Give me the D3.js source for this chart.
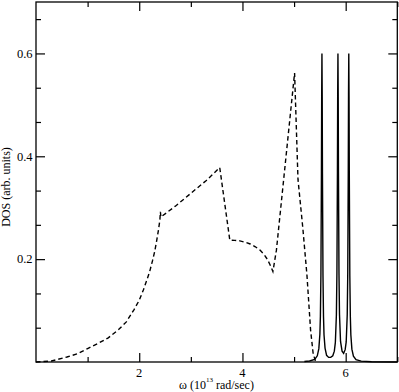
<!DOCTYPE html>
<html><head><meta charset="utf-8">
<script src="https://cdn.jsdelivr.net/npm/d3@7"></script>
<style>body{margin:0;background:#fff}svg{display:block}</style>
</head><body>
<script>
// dashed series (omega, DOS)
const dashedX = [0,0.3,0.6,0.8,1.0,1.2,1.4,1.6,1.75,1.9,2.0,2.08,2.15,2.2,2.26,2.3,2.34,2.37,2.40,2.41,2.42,2.7,3.0,3.3,3.56,3.755,3.85,3.95,4.05,4.15,4.25,4.34,4.42,4.48,4.53,4.57,4.59,4.658,5.01,5.076,5.17,5.25,5.32,5.37,5.42];
const dashedY = [0,0.002,0.0097,0.016,0.026,0.036,0.047,0.063,0.078,0.102,0.12,0.14,0.16,0.175,0.198,0.215,0.237,0.255,0.276,0.292,0.282,0.303,0.328,0.353,0.378,0.237,0.2365,0.2355,0.233,0.2295,0.224,0.2175,0.209,0.200,0.190,0.181,0.176,0.2175,0.562,0.355,0.26,0.168,0.062,0.016,0.0];
// solid series (omega, DOS)
const solidX = [5.20,5.30,5.40,5.45,5.48,5.50,5.51,5.52,5.53,5.535,5.54,5.545,5.55,5.56,5.57,5.58,5.60,5.63,5.67,5.71,5.75,5.78,5.80,5.82,5.83,5.84,5.845,5.85,5.855,5.86,5.87,5.88,5.90,5.93,5.96,5.99,6.01,6.03,6.04,6.05,6.055,6.06,6.065,6.07,6.08,6.09,6.10,6.12,6.15,6.20,6.30,6.50,7.0];
const solidY = [0.001,0.002,0.005,0.012,0.026,0.054,0.089,0.169,0.366,0.517,0.6,0.517,0.366,0.169,0.089,0.053,0.027,0.013,0.009,0.009,0.012,0.021,0.038,0.092,0.172,0.369,0.52,0.6,0.52,0.37,0.173,0.093,0.040,0.021,0.017,0.024,0.039,0.092,0.172,0.368,0.52,0.6,0.517,0.366,0.169,0.089,0.053,0.025,0.0114,0.0047,0.0016,0.0005,0];
const xMajor = [2,4,6];
const xMinor = [1,3,5,7];
const yMajor = [0.2,0.4,0.6];
const yMinor = [0.0667,0.1333,0.2667,0.3333,0.4667,0.5333,0.6667];

const FONT = "'Liberation Serif','Times New Roman',Times,serif";
const W=399,H=392;
const svg=d3.select("body").append("svg").attr("width",W).attr("height",H);
const x=d3.scaleLinear().domain([0,7]).range([36,397.3]);
const y=d3.scaleLinear().domain([0,0.7]).range([362,2]);

const line=d3.line().x(d=>x(d[0])).y(d=>y(d[1]));
svg.append("path").datum(dashedX.map((v,i)=>[v,dashedY[i]]))
  .attr("d",line).attr("fill","none").attr("stroke","#000").attr("stroke-width",1.4).attr("stroke-dasharray","4.5,3");
svg.append("path").datum(solidX.map((v,i)=>[v,solidY[i]]))
  .attr("d",line).attr("fill","none").attr("stroke","#000").attr("stroke-width",1.4);

function ax(gen, tr, vals, size){
  const g=svg.append("g").attr("transform",tr)
    .call(gen.tickValues(vals).tickSizeInner(size).tickSizeOuter(0).tickFormat(""));
  g.select(".domain").remove();
  g.selectAll("text").remove();
  g.selectAll("line").attr("stroke","#000").attr("stroke-width",1.2);
  return g;
}
const fy=d3.format(".1f");
ax(d3.axisTop(x),`translate(0,${y(0)})`,xMajor,9);
ax(d3.axisTop(x),`translate(0,${y(0)})`,xMinor,5);
ax(d3.axisBottom(x),`translate(0,${y(0.7)})`,xMajor,9);
ax(d3.axisBottom(x),`translate(0,${y(0.7)})`,xMinor,5);
ax(d3.axisRight(y),`translate(${x(0)},0)`,yMajor,9);
ax(d3.axisRight(y),`translate(${x(0)},0)`,yMinor,5);
ax(d3.axisLeft(y),`translate(${x(7)},0)`,yMajor,9);
ax(d3.axisLeft(y),`translate(${x(7)},0)`,yMinor,5);

svg.append("rect").attr("x",x(0)).attr("y",y(0.7)).attr("width",x(7)-x(0)).attr("height",y(0)-y(0.7))
  .attr("fill","none").attr("stroke","#000").attr("stroke-width",1.3);

svg.selectAll(".xl").data(xMajor).enter().append("text").attr("class","xl")
  .attr("x",d=>x(d)).attr("y",376.5).attr("text-anchor","middle")
  .style("font-family",FONT).style("font-size","12.5px").text(d=>d);
svg.selectAll(".yl").data(yMajor).enter().append("text").attr("class","yl")
  .attr("x",32.5).attr("y",d=>y(d)+4.3).attr("text-anchor","end")
  .style("font-family",FONT).style("font-size","12.5px").text(d=>fy(d));

const xt=svg.append("text").attr("x",216.5).attr("y",389).attr("text-anchor","middle")
  .style("font-family",FONT).style("font-size","12px");
xt.append("tspan").text("ω (10");
xt.append("tspan").style("font-size","7px").attr("dy",-7).text("13");
xt.append("tspan").attr("dy",7).text(" rad/sec)");
svg.append("text").attr("transform","translate(9.5,187) rotate(-90)").attr("text-anchor","middle")
  .style("font-family",FONT).style("font-size","12px").text("DOS (arb. units)");
</script>
</body></html>
